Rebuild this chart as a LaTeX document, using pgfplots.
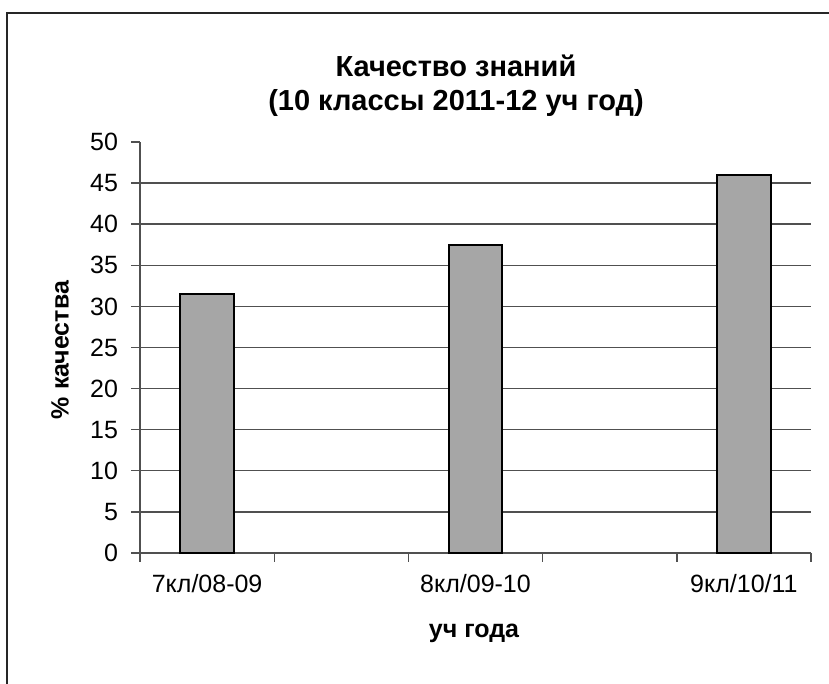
\documentclass[border=0pt]{standalone}
\usepackage{fontspec}
\setmainfont{Liberation Sans}
\usepackage{pgfplots}
\pgfplotsset{compat=1.18}

\definecolor{barfill}{HTML}{A6A6A6}
\definecolor{gridc}{HTML}{505050}

\begin{document}
\begin{tikzpicture}
% 1 px of the reference = 0.5pt
\useasboundingbox (0,0) rectangle (414.5pt,342pt);
\draw[line width=1pt, black!85] (3.5pt,0) -- (3.5pt,335.5pt) -- (414.5pt,335.5pt);

\begin{axis}[
    at={(70pt,65.5pt)}, anchor=south west,
    scale only axis,
    width=335.5pt, height=205.5pt,
    xmin=0, xmax=5,
    ymin=0, ymax=50,
    axis lines=left,
    axis line style={-, gridc, line width=0.7pt},
    tick align=outside,
    major tick length=4.5pt,
    tick style={gridc, line width=0.7pt},
    xtick={0,1,2,3,4,5},
    xticklabels={},
    extra x ticks={0.5,2.5,4.5},
    extra x tick labels={7кл/08-09, 8кл/09-10, 9кл/10/11},
    extra x tick style={major tick length=0pt, grid=none,
        tick label style={yshift=-7pt}},
    ytick={0,5,...,45},
    extra y ticks={50},
    extra y tick style={grid=none},
    ymajorgrids=true,
    grid style={gridc, line width=0.7pt},
    tick label style={font=\fontsize{12.5}{14}\selectfont},
    yticklabel style={xshift=-3pt},
    /pgf/number format/assume math mode=true,
    clip=false,
]
\addplot[ybar, bar width=0.4, fill=barfill, draw=black, line width=0.9pt]
    coordinates {(0.5,31.5) (2.5,37.5) (4.5,46)};
\end{axis}

\node[font=\bfseries\fontsize{14.5}{17}\selectfont, align=center] at (228pt,299pt)
    {Качество знаний\\(10 классы 2011-12 уч год)};
\node[font=\bfseries\fontsize{12.5}{14}\selectfont] at (237pt,25.5pt) {уч года};
\node[font=\bfseries\fontsize{12.5}{14}\selectfont, rotate=90] at (30pt,167pt) {\% качества};
\end{tikzpicture}
\end{document}
